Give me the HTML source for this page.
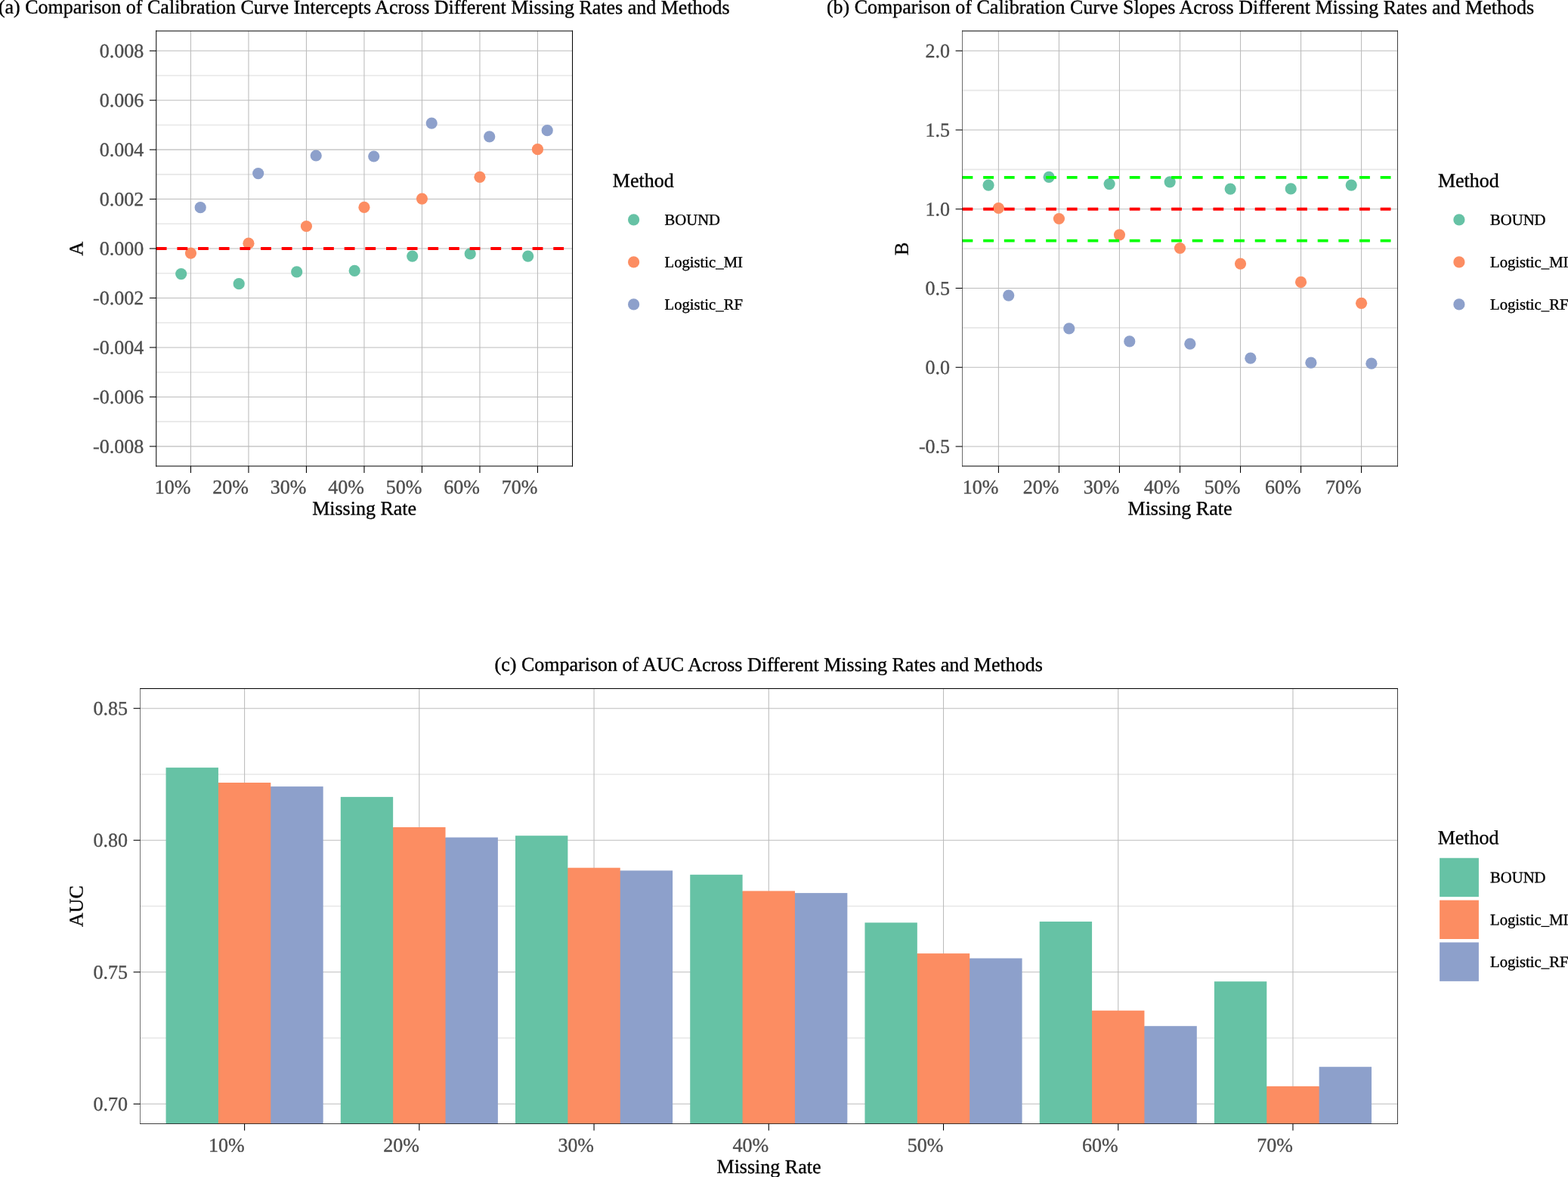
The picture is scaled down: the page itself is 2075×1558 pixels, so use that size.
<!DOCTYPE html>
<html lang="en">
<head>
<meta charset="utf-8">
<title>Comparison of Calibration Curves and AUC Across Missing Rates and Methods</title>
<style>
html, body { margin: 0; padding: 0; background: #fff; }
body { width: 2075px; height: 1558px; overflow: hidden; font-family: 'Liberation Serif', serif; }
svg { display: block; position: absolute; left: 0; top: 0; }
</style>
</head>
<body>
<svg width="2075" height="1558" viewBox="0 0 2075 1558" font-family="'Liberation Serif', serif" text-rendering="geometricPrecision" role="img" aria-label="Three-panel figure: calibration intercepts, calibration slopes and AUC by missing rate and method">
<rect width="2075" height="1558" fill="#fff"/>
<g id="panel-a">
<line x1="206.75" x2="757.5" y1="100.01" y2="100.01" stroke="#e7e7e7" stroke-width="1.6"/>
<line x1="206.75" x2="757.5" y1="165.44" y2="165.44" stroke="#e7e7e7" stroke-width="1.6"/>
<line x1="206.75" x2="757.5" y1="230.86" y2="230.86" stroke="#e7e7e7" stroke-width="1.6"/>
<line x1="206.75" x2="757.5" y1="296.29" y2="296.29" stroke="#e7e7e7" stroke-width="1.6"/>
<line x1="206.75" x2="757.5" y1="361.74" y2="361.74" stroke="#e7e7e7" stroke-width="1.6"/>
<line x1="206.75" x2="757.5" y1="427.2" y2="427.2" stroke="#e7e7e7" stroke-width="1.6"/>
<line x1="206.75" x2="757.5" y1="492.68" y2="492.68" stroke="#e7e7e7" stroke-width="1.6"/>
<line x1="206.75" x2="757.5" y1="558.14" y2="558.14" stroke="#e7e7e7" stroke-width="1.6"/>
<line x1="206.75" x2="757.5" y1="67.3" y2="67.3" stroke="#bcbcbc" stroke-width="1.07"/>
<line x1="206.75" x2="757.5" y1="132.73" y2="132.73" stroke="#bcbcbc" stroke-width="1.07"/>
<line x1="206.75" x2="757.5" y1="198.15" y2="198.15" stroke="#bcbcbc" stroke-width="1.07"/>
<line x1="206.75" x2="757.5" y1="263.57" y2="263.57" stroke="#bcbcbc" stroke-width="1.07"/>
<line x1="206.75" x2="757.5" y1="329" y2="329" stroke="#bcbcbc" stroke-width="1.07"/>
<line x1="206.75" x2="757.5" y1="394.47" y2="394.47" stroke="#bcbcbc" stroke-width="1.07"/>
<line x1="206.75" x2="757.5" y1="459.94" y2="459.94" stroke="#bcbcbc" stroke-width="1.07"/>
<line x1="206.75" x2="757.5" y1="525.41" y2="525.41" stroke="#bcbcbc" stroke-width="1.07"/>
<line x1="206.75" x2="757.5" y1="590.88" y2="590.88" stroke="#bcbcbc" stroke-width="1.07"/>
<line x1="252.45" x2="252.45" y1="41" y2="617" stroke="#bcbcbc" stroke-width="1.07"/>
<line x1="328.95" x2="328.95" y1="41" y2="617" stroke="#bcbcbc" stroke-width="1.07"/>
<line x1="405.45" x2="405.45" y1="41" y2="617" stroke="#bcbcbc" stroke-width="1.07"/>
<line x1="481.95" x2="481.95" y1="41" y2="617" stroke="#bcbcbc" stroke-width="1.07"/>
<line x1="558.45" x2="558.45" y1="41" y2="617" stroke="#bcbcbc" stroke-width="1.07"/>
<line x1="634.95" x2="634.95" y1="41" y2="617" stroke="#bcbcbc" stroke-width="1.07"/>
<line x1="711.45" x2="711.45" y1="41" y2="617" stroke="#bcbcbc" stroke-width="1.07"/>
<circle cx="239.7" cy="362.6" r="7.6" fill="#66C2A5"/>
<circle cx="252.45" cy="335.1" r="7.6" fill="#FC8D62"/>
<circle cx="265.2" cy="274.7" r="7.6" fill="#8DA0CB"/>
<circle cx="316.2" cy="375.7" r="7.6" fill="#66C2A5"/>
<circle cx="328.95" cy="322.2" r="7.6" fill="#FC8D62"/>
<circle cx="341.7" cy="229.6" r="7.6" fill="#8DA0CB"/>
<circle cx="392.7" cy="359.9" r="7.6" fill="#66C2A5"/>
<circle cx="405.45" cy="299.5" r="7.6" fill="#FC8D62"/>
<circle cx="418.2" cy="206" r="7.6" fill="#8DA0CB"/>
<circle cx="469.2" cy="358.4" r="7.6" fill="#66C2A5"/>
<circle cx="481.95" cy="274.4" r="7.6" fill="#FC8D62"/>
<circle cx="494.7" cy="207" r="7.6" fill="#8DA0CB"/>
<circle cx="545.7" cy="339.1" r="7.6" fill="#66C2A5"/>
<circle cx="558.45" cy="263.1" r="7.6" fill="#FC8D62"/>
<circle cx="571.2" cy="163.1" r="7.6" fill="#8DA0CB"/>
<circle cx="622.2" cy="335.9" r="7.6" fill="#66C2A5"/>
<circle cx="634.95" cy="234.3" r="7.6" fill="#FC8D62"/>
<circle cx="647.7" cy="180.9" r="7.6" fill="#8DA0CB"/>
<circle cx="698.7" cy="339.1" r="7.6" fill="#66C2A5"/>
<circle cx="711.45" cy="197.7" r="7.6" fill="#FC8D62"/>
<circle cx="724.2" cy="172.7" r="7.6" fill="#8DA0CB"/>
<line x1="206.75" x2="757.5" y1="329" y2="329" stroke="#FF0000" stroke-width="3.9" stroke-dasharray="13.83 13.83"/>
<line x1="206.75" x2="206.75" y1="40.4" y2="617.6" stroke="#000000" stroke-width="1.0"/>
<line x1="757.5" x2="757.5" y1="40.4" y2="617.6" stroke="#000000" stroke-width="1.0"/>
<line x1="206.25" x2="758" y1="41" y2="41" stroke="#000000" stroke-width="1.2"/>
<line x1="206.25" x2="758" y1="617" y2="617" stroke="#000000" stroke-width="1.2"/>
<line x1="197.85" x2="206.75" y1="67.3" y2="67.3" stroke="#000000" stroke-width="1.07"/>
<line x1="197.85" x2="206.75" y1="132.73" y2="132.73" stroke="#000000" stroke-width="1.07"/>
<line x1="197.85" x2="206.75" y1="198.15" y2="198.15" stroke="#000000" stroke-width="1.07"/>
<line x1="197.85" x2="206.75" y1="263.57" y2="263.57" stroke="#000000" stroke-width="1.07"/>
<line x1="197.85" x2="206.75" y1="329" y2="329" stroke="#000000" stroke-width="1.07"/>
<line x1="197.85" x2="206.75" y1="394.47" y2="394.47" stroke="#000000" stroke-width="1.07"/>
<line x1="197.85" x2="206.75" y1="459.94" y2="459.94" stroke="#000000" stroke-width="1.07"/>
<line x1="197.85" x2="206.75" y1="525.41" y2="525.41" stroke="#000000" stroke-width="1.07"/>
<line x1="197.85" x2="206.75" y1="590.88" y2="590.88" stroke="#000000" stroke-width="1.07"/>
<line x1="252.45" x2="252.45" y1="617" y2="625.9" stroke="#000000" stroke-width="1.07"/>
<line x1="328.95" x2="328.95" y1="617" y2="625.9" stroke="#000000" stroke-width="1.07"/>
<line x1="405.45" x2="405.45" y1="617" y2="625.9" stroke="#000000" stroke-width="1.07"/>
<line x1="481.95" x2="481.95" y1="617" y2="625.9" stroke="#000000" stroke-width="1.07"/>
<line x1="558.45" x2="558.45" y1="617" y2="625.9" stroke="#000000" stroke-width="1.07"/>
<line x1="634.95" x2="634.95" y1="617" y2="625.9" stroke="#000000" stroke-width="1.07"/>
<line x1="711.45" x2="711.45" y1="617" y2="625.9" stroke="#000000" stroke-width="1.07"/>
<text x="190.2" y="75.95" font-size="26" fill="#4D4D4D" stroke="#4D4D4D" stroke-width="0.35" text-anchor="end" transform="rotate(0.03 190.2 75.95)">0.008</text>
<text x="190.2" y="141.38" font-size="26" fill="#4D4D4D" stroke="#4D4D4D" stroke-width="0.35" text-anchor="end" transform="rotate(0.03 190.2 141.38)">0.006</text>
<text x="190.2" y="206.8" font-size="26" fill="#4D4D4D" stroke="#4D4D4D" stroke-width="0.35" text-anchor="end" transform="rotate(0.03 190.2 206.8)">0.004</text>
<text x="190.2" y="272.22" font-size="26" fill="#4D4D4D" stroke="#4D4D4D" stroke-width="0.35" text-anchor="end" transform="rotate(0.03 190.2 272.22)">0.002</text>
<text x="190.2" y="337.65" font-size="26" fill="#4D4D4D" stroke="#4D4D4D" stroke-width="0.35" text-anchor="end" transform="rotate(0.03 190.2 337.65)">0.000</text>
<text x="190.2" y="403.12" font-size="26" fill="#4D4D4D" stroke="#4D4D4D" stroke-width="0.35" text-anchor="end" transform="rotate(0.03 190.2 403.12)">-0.002</text>
<text x="190.2" y="468.59" font-size="26" fill="#4D4D4D" stroke="#4D4D4D" stroke-width="0.35" text-anchor="end" transform="rotate(0.03 190.2 468.59)">-0.004</text>
<text x="190.2" y="534.06" font-size="26" fill="#4D4D4D" stroke="#4D4D4D" stroke-width="0.35" text-anchor="end" transform="rotate(0.03 190.2 534.06)">-0.006</text>
<text x="190.2" y="599.53" font-size="26" fill="#4D4D4D" stroke="#4D4D4D" stroke-width="0.35" text-anchor="end" transform="rotate(0.03 190.2 599.53)">-0.008</text>
<text x="252.45" y="653.3" font-size="26" fill="#4D4D4D" stroke="#4D4D4D" stroke-width="0.35" text-anchor="end" transform="rotate(0.03 252.45 653.3)">10%</text>
<text x="328.95" y="653.3" font-size="26" fill="#4D4D4D" stroke="#4D4D4D" stroke-width="0.35" text-anchor="end" transform="rotate(0.03 328.95 653.3)">20%</text>
<text x="405.45" y="653.3" font-size="26" fill="#4D4D4D" stroke="#4D4D4D" stroke-width="0.35" text-anchor="end" transform="rotate(0.03 405.45 653.3)">30%</text>
<text x="481.95" y="653.3" font-size="26" fill="#4D4D4D" stroke="#4D4D4D" stroke-width="0.35" text-anchor="end" transform="rotate(0.03 481.95 653.3)">40%</text>
<text x="558.45" y="653.3" font-size="26" fill="#4D4D4D" stroke="#4D4D4D" stroke-width="0.35" text-anchor="end" transform="rotate(0.03 558.45 653.3)">50%</text>
<text x="634.95" y="653.3" font-size="26" fill="#4D4D4D" stroke="#4D4D4D" stroke-width="0.35" text-anchor="end" transform="rotate(0.03 634.95 653.3)">60%</text>
<text x="711.45" y="653.3" font-size="26" fill="#4D4D4D" stroke="#4D4D4D" stroke-width="0.35" text-anchor="end" transform="rotate(0.03 711.45 653.3)">70%</text>
<text x="481.82" y="18" font-size="26" fill="#000" stroke="#000" stroke-width="0.35" text-anchor="middle" transform="rotate(0.03 481.82 18)">(a) Comparison of Calibration Curve Intercepts Across Different Missing Rates and Methods</text>
<text x="482.12" y="681.5" font-size="26" fill="#000" stroke="#000" stroke-width="0.35" text-anchor="middle" transform="rotate(0.03 482.12 681.5)">Missing Rate</text>
<text transform="translate(109.4,329) rotate(-90.03)" font-size="26" fill="#000" stroke="#000" stroke-width="0.35" text-anchor="middle">A</text>
<text x="810.8" y="247.6" font-size="26" fill="#000" stroke="#000" stroke-width="0.35" text-anchor="start" transform="rotate(0.03 810.8 247.6)">Method</text>
<circle cx="838.6" cy="290.9" r="7.6" fill="#66C2A5"/>
<text x="879.5" y="297.75" font-size="20.7" fill="#000" stroke="#000" stroke-width="0.35" text-anchor="start" transform="rotate(0.03 879.5 297.75)">BOUND</text>
<circle cx="838.6" cy="346.9" r="7.6" fill="#FC8D62"/>
<text x="879.5" y="353.75" font-size="20.7" fill="#000" stroke="#000" stroke-width="0.35" text-anchor="start" transform="rotate(0.03 879.5 353.75)">Logistic_MI</text>
<circle cx="838.6" cy="402.9" r="7.6" fill="#8DA0CB"/>
<text x="879.5" y="409.75" font-size="20.7" fill="#000" stroke="#000" stroke-width="0.35" text-anchor="start" transform="rotate(0.03 879.5 409.75)">Logistic_RF</text>
</g>
<g id="panel-b">
<line x1="1273.5" x2="1849.5" y1="119.64" y2="119.64" stroke="#e7e7e7" stroke-width="1.6"/>
<line x1="1273.5" x2="1849.5" y1="224.39" y2="224.39" stroke="#e7e7e7" stroke-width="1.6"/>
<line x1="1273.5" x2="1849.5" y1="329.13" y2="329.13" stroke="#e7e7e7" stroke-width="1.6"/>
<line x1="1273.5" x2="1849.5" y1="433.88" y2="433.88" stroke="#e7e7e7" stroke-width="1.6"/>
<line x1="1273.5" x2="1849.5" y1="67.27" y2="67.27" stroke="#bcbcbc" stroke-width="1.07"/>
<line x1="1273.5" x2="1849.5" y1="172.01" y2="172.01" stroke="#bcbcbc" stroke-width="1.07"/>
<line x1="1273.5" x2="1849.5" y1="276.76" y2="276.76" stroke="#bcbcbc" stroke-width="1.07"/>
<line x1="1273.5" x2="1849.5" y1="381.5" y2="381.5" stroke="#bcbcbc" stroke-width="1.07"/>
<line x1="1273.5" x2="1849.5" y1="486.25" y2="486.25" stroke="#bcbcbc" stroke-width="1.07"/>
<line x1="1273.5" x2="1849.5" y1="591" y2="591" stroke="#bcbcbc" stroke-width="1.07"/>
<line x1="1321.4" x2="1321.4" y1="41" y2="617" stroke="#bcbcbc" stroke-width="1.07"/>
<line x1="1401.43" x2="1401.43" y1="41" y2="617" stroke="#bcbcbc" stroke-width="1.07"/>
<line x1="1481.46" x2="1481.46" y1="41" y2="617" stroke="#bcbcbc" stroke-width="1.07"/>
<line x1="1561.49" x2="1561.49" y1="41" y2="617" stroke="#bcbcbc" stroke-width="1.07"/>
<line x1="1641.52" x2="1641.52" y1="41" y2="617" stroke="#bcbcbc" stroke-width="1.07"/>
<line x1="1721.55" x2="1721.55" y1="41" y2="617" stroke="#bcbcbc" stroke-width="1.07"/>
<line x1="1801.58" x2="1801.58" y1="41" y2="617" stroke="#bcbcbc" stroke-width="1.07"/>
<circle cx="1308.06" cy="245.1" r="7.6" fill="#66C2A5"/>
<circle cx="1321.4" cy="275.5" r="7.6" fill="#FC8D62"/>
<circle cx="1334.74" cy="391.1" r="7.6" fill="#8DA0CB"/>
<circle cx="1388.09" cy="234.3" r="7.6" fill="#66C2A5"/>
<circle cx="1401.43" cy="289.5" r="7.6" fill="#FC8D62"/>
<circle cx="1414.77" cy="434.9" r="7.6" fill="#8DA0CB"/>
<circle cx="1468.12" cy="243.6" r="7.6" fill="#66C2A5"/>
<circle cx="1481.46" cy="310.8" r="7.6" fill="#FC8D62"/>
<circle cx="1494.8" cy="451.9" r="7.6" fill="#8DA0CB"/>
<circle cx="1548.15" cy="240.8" r="7.6" fill="#66C2A5"/>
<circle cx="1561.49" cy="328.5" r="7.6" fill="#FC8D62"/>
<circle cx="1574.83" cy="455.2" r="7.6" fill="#8DA0CB"/>
<circle cx="1628.18" cy="250.1" r="7.6" fill="#66C2A5"/>
<circle cx="1641.52" cy="349.1" r="7.6" fill="#FC8D62"/>
<circle cx="1654.86" cy="474.2" r="7.6" fill="#8DA0CB"/>
<circle cx="1708.21" cy="249.9" r="7.6" fill="#66C2A5"/>
<circle cx="1721.55" cy="373.4" r="7.6" fill="#FC8D62"/>
<circle cx="1734.89" cy="480.2" r="7.6" fill="#8DA0CB"/>
<circle cx="1788.24" cy="245.1" r="7.6" fill="#66C2A5"/>
<circle cx="1801.58" cy="401.3" r="7.6" fill="#FC8D62"/>
<circle cx="1814.92" cy="481.2" r="7.6" fill="#8DA0CB"/>
<line x1="1273.5" x2="1849.5" y1="276.76" y2="276.76" stroke="#FF0000" stroke-width="3.9" stroke-dasharray="13.83 13.83"/>
<line x1="1273.5" x2="1849.5" y1="234.86" y2="234.86" stroke="#00FF00" stroke-width="3.9" stroke-dasharray="13.83 13.83"/>
<line x1="1273.5" x2="1849.5" y1="318.66" y2="318.66" stroke="#00FF00" stroke-width="3.9" stroke-dasharray="13.83 13.83"/>
<line x1="1273.5" x2="1273.5" y1="40.4" y2="617.6" stroke="#000000" stroke-width="0.58"/>
<line x1="1849.5" x2="1849.5" y1="40.4" y2="617.6" stroke="#000000" stroke-width="0.75"/>
<line x1="1273.21" x2="1849.88" y1="41" y2="41" stroke="#000000" stroke-width="1.2"/>
<line x1="1273.21" x2="1849.88" y1="617" y2="617" stroke="#000000" stroke-width="1.2"/>
<line x1="1264.6" x2="1273.5" y1="67.27" y2="67.27" stroke="#000000" stroke-width="1.07"/>
<line x1="1264.6" x2="1273.5" y1="172.01" y2="172.01" stroke="#000000" stroke-width="1.07"/>
<line x1="1264.6" x2="1273.5" y1="276.76" y2="276.76" stroke="#000000" stroke-width="1.07"/>
<line x1="1264.6" x2="1273.5" y1="381.5" y2="381.5" stroke="#000000" stroke-width="1.07"/>
<line x1="1264.6" x2="1273.5" y1="486.25" y2="486.25" stroke="#000000" stroke-width="1.07"/>
<line x1="1264.6" x2="1273.5" y1="591" y2="591" stroke="#000000" stroke-width="1.07"/>
<line x1="1321.4" x2="1321.4" y1="617" y2="625.9" stroke="#000000" stroke-width="1.07"/>
<line x1="1401.43" x2="1401.43" y1="617" y2="625.9" stroke="#000000" stroke-width="1.07"/>
<line x1="1481.46" x2="1481.46" y1="617" y2="625.9" stroke="#000000" stroke-width="1.07"/>
<line x1="1561.49" x2="1561.49" y1="617" y2="625.9" stroke="#000000" stroke-width="1.07"/>
<line x1="1641.52" x2="1641.52" y1="617" y2="625.9" stroke="#000000" stroke-width="1.07"/>
<line x1="1721.55" x2="1721.55" y1="617" y2="625.9" stroke="#000000" stroke-width="1.07"/>
<line x1="1801.58" x2="1801.58" y1="617" y2="625.9" stroke="#000000" stroke-width="1.07"/>
<text x="1257.1" y="75.92" font-size="26" fill="#4D4D4D" stroke="#4D4D4D" stroke-width="0.35" text-anchor="end" transform="rotate(0.03 1257.1 75.92)">2.0</text>
<text x="1257.1" y="180.66" font-size="26" fill="#4D4D4D" stroke="#4D4D4D" stroke-width="0.35" text-anchor="end" transform="rotate(0.03 1257.1 180.66)">1.5</text>
<text x="1257.1" y="285.41" font-size="26" fill="#4D4D4D" stroke="#4D4D4D" stroke-width="0.35" text-anchor="end" transform="rotate(0.03 1257.1 285.41)">1.0</text>
<text x="1257.1" y="390.15" font-size="26" fill="#4D4D4D" stroke="#4D4D4D" stroke-width="0.35" text-anchor="end" transform="rotate(0.03 1257.1 390.15)">0.5</text>
<text x="1257.1" y="494.9" font-size="26" fill="#4D4D4D" stroke="#4D4D4D" stroke-width="0.35" text-anchor="end" transform="rotate(0.03 1257.1 494.9)">0.0</text>
<text x="1257.1" y="599.64" font-size="26" fill="#4D4D4D" stroke="#4D4D4D" stroke-width="0.35" text-anchor="end" transform="rotate(0.03 1257.1 599.64)">-0.5</text>
<text x="1321.4" y="653.3" font-size="26" fill="#4D4D4D" stroke="#4D4D4D" stroke-width="0.35" text-anchor="end" transform="rotate(0.03 1321.4 653.3)">10%</text>
<text x="1401.43" y="653.3" font-size="26" fill="#4D4D4D" stroke="#4D4D4D" stroke-width="0.35" text-anchor="end" transform="rotate(0.03 1401.43 653.3)">20%</text>
<text x="1481.46" y="653.3" font-size="26" fill="#4D4D4D" stroke="#4D4D4D" stroke-width="0.35" text-anchor="end" transform="rotate(0.03 1481.46 653.3)">30%</text>
<text x="1561.49" y="653.3" font-size="26" fill="#4D4D4D" stroke="#4D4D4D" stroke-width="0.35" text-anchor="end" transform="rotate(0.03 1561.49 653.3)">40%</text>
<text x="1641.52" y="653.3" font-size="26" fill="#4D4D4D" stroke="#4D4D4D" stroke-width="0.35" text-anchor="end" transform="rotate(0.03 1641.52 653.3)">50%</text>
<text x="1721.55" y="653.3" font-size="26" fill="#4D4D4D" stroke="#4D4D4D" stroke-width="0.35" text-anchor="end" transform="rotate(0.03 1721.55 653.3)">60%</text>
<text x="1801.58" y="653.3" font-size="26" fill="#4D4D4D" stroke="#4D4D4D" stroke-width="0.35" text-anchor="end" transform="rotate(0.03 1801.58 653.3)">70%</text>
<text x="1562" y="18" font-size="26" fill="#000" stroke="#000" stroke-width="0.35" text-anchor="middle" transform="rotate(0.03 1562 18)">(b) Comparison of Calibration Curve Slopes Across Different Missing Rates and Methods</text>
<text x="1561.5" y="681.5" font-size="26" fill="#000" stroke="#000" stroke-width="0.35" text-anchor="middle" transform="rotate(0.03 1561.5 681.5)">Missing Rate</text>
<text transform="translate(1201.8,329.3) rotate(-90.03)" font-size="26" fill="#000" stroke="#000" stroke-width="0.35" text-anchor="middle">B</text>
<text x="1902.9" y="247.6" font-size="26" fill="#000" stroke="#000" stroke-width="0.35" text-anchor="start" transform="rotate(0.03 1902.9 247.6)">Method</text>
<circle cx="1930.9" cy="290.9" r="7.6" fill="#66C2A5"/>
<text x="1972" y="297.75" font-size="20.7" fill="#000" stroke="#000" stroke-width="0.35" text-anchor="start" transform="rotate(0.03 1972 297.75)">BOUND</text>
<circle cx="1930.9" cy="346.9" r="7.6" fill="#FC8D62"/>
<text x="1972" y="353.75" font-size="20.7" fill="#000" stroke="#000" stroke-width="0.35" text-anchor="start" transform="rotate(0.03 1972 353.75)">Logistic_MI</text>
<circle cx="1930.9" cy="402.9" r="7.6" fill="#8DA0CB"/>
<text x="1972" y="409.75" font-size="20.7" fill="#000" stroke="#000" stroke-width="0.35" text-anchor="start" transform="rotate(0.03 1972 409.75)">Logistic_RF</text>
</g>
<g id="panel-c">
<line x1="185.5" x2="1849.5" y1="1024.95" y2="1024.95" stroke="#e7e7e7" stroke-width="1.6"/>
<line x1="185.5" x2="1849.5" y1="1199.5" y2="1199.5" stroke="#e7e7e7" stroke-width="1.6"/>
<line x1="185.5" x2="1849.5" y1="1374.05" y2="1374.05" stroke="#e7e7e7" stroke-width="1.6"/>
<line x1="185.5" x2="1849.5" y1="937.68" y2="937.68" stroke="#bcbcbc" stroke-width="1.07"/>
<line x1="185.5" x2="1849.5" y1="1112.23" y2="1112.23" stroke="#bcbcbc" stroke-width="1.07"/>
<line x1="185.5" x2="1849.5" y1="1286.77" y2="1286.77" stroke="#bcbcbc" stroke-width="1.07"/>
<line x1="185.5" x2="1849.5" y1="1461.32" y2="1461.32" stroke="#bcbcbc" stroke-width="1.07"/>
<line x1="323.6" x2="323.6" y1="911.5" y2="1487.5" stroke="#bcbcbc" stroke-width="1.07"/>
<line x1="554.83" x2="554.83" y1="911.5" y2="1487.5" stroke="#bcbcbc" stroke-width="1.07"/>
<line x1="786.06" x2="786.06" y1="911.5" y2="1487.5" stroke="#bcbcbc" stroke-width="1.07"/>
<line x1="1017.29" x2="1017.29" y1="911.5" y2="1487.5" stroke="#bcbcbc" stroke-width="1.07"/>
<line x1="1248.52" x2="1248.52" y1="911.5" y2="1487.5" stroke="#bcbcbc" stroke-width="1.07"/>
<line x1="1479.75" x2="1479.75" y1="911.5" y2="1487.5" stroke="#bcbcbc" stroke-width="1.07"/>
<line x1="1710.98" x2="1710.98" y1="911.5" y2="1487.5" stroke="#bcbcbc" stroke-width="1.07"/>
<rect x="287.92" y="1036.5" width="2" height="451" fill="#66C2A5"/>
<rect x="357.28" y="1041.6" width="2" height="445.9" fill="#FC8D62"/>
<rect x="219.55" y="1016.1" width="69.37" height="471.4" fill="#66C2A5"/>
<rect x="288.92" y="1036" width="69.37" height="451.5" fill="#FC8D62"/>
<rect x="358.28" y="1041.1" width="69.37" height="446.4" fill="#8DA0CB"/>
<rect x="519.15" y="1095.5" width="2" height="392" fill="#66C2A5"/>
<rect x="588.51" y="1109" width="2" height="378.5" fill="#FC8D62"/>
<rect x="450.78" y="1054.9" width="69.37" height="432.6" fill="#66C2A5"/>
<rect x="520.15" y="1095" width="69.37" height="392.5" fill="#FC8D62"/>
<rect x="589.51" y="1108.5" width="69.37" height="379" fill="#8DA0CB"/>
<rect x="750.38" y="1149.2" width="2" height="338.3" fill="#66C2A5"/>
<rect x="819.74" y="1152.9" width="2" height="334.6" fill="#FC8D62"/>
<rect x="682.01" y="1106.2" width="69.37" height="381.3" fill="#66C2A5"/>
<rect x="751.38" y="1148.7" width="69.37" height="338.8" fill="#FC8D62"/>
<rect x="820.74" y="1152.4" width="69.37" height="335.1" fill="#8DA0CB"/>
<rect x="981.61" y="1179.9" width="2" height="307.6" fill="#66C2A5"/>
<rect x="1050.97" y="1182.6" width="2" height="304.9" fill="#FC8D62"/>
<rect x="913.24" y="1157.8" width="69.37" height="329.7" fill="#66C2A5"/>
<rect x="982.61" y="1179.4" width="69.37" height="308.1" fill="#FC8D62"/>
<rect x="1051.97" y="1182.1" width="69.37" height="305.4" fill="#8DA0CB"/>
<rect x="1212.84" y="1262.6" width="2" height="224.9" fill="#66C2A5"/>
<rect x="1282.2" y="1269" width="2" height="218.5" fill="#FC8D62"/>
<rect x="1144.47" y="1221.3" width="69.37" height="266.2" fill="#66C2A5"/>
<rect x="1213.84" y="1262.1" width="69.37" height="225.4" fill="#FC8D62"/>
<rect x="1283.2" y="1268.5" width="69.37" height="219" fill="#8DA0CB"/>
<rect x="1444.07" y="1338.2" width="2" height="149.3" fill="#66C2A5"/>
<rect x="1513.43" y="1358.7" width="2" height="128.8" fill="#FC8D62"/>
<rect x="1375.7" y="1219.9" width="69.37" height="267.6" fill="#66C2A5"/>
<rect x="1445.07" y="1337.7" width="69.37" height="149.8" fill="#FC8D62"/>
<rect x="1514.43" y="1358.2" width="69.37" height="129.3" fill="#8DA0CB"/>
<rect x="1675.3" y="1438.4" width="2" height="49.1" fill="#66C2A5"/>
<rect x="1744.66" y="1438.4" width="2" height="49.1" fill="#FC8D62"/>
<rect x="1606.93" y="1299.2" width="69.37" height="188.3" fill="#66C2A5"/>
<rect x="1676.3" y="1437.9" width="69.37" height="49.6" fill="#FC8D62"/>
<rect x="1745.66" y="1412.2" width="69.37" height="75.3" fill="#8DA0CB"/>
<line x1="185.5" x2="185.5" y1="911" y2="1487.88" stroke="#000000" stroke-width="0.55"/>
<line x1="1849.5" x2="1849.5" y1="911" y2="1487.88" stroke="#000000" stroke-width="0.75"/>
<line x1="185.22" x2="1849.88" y1="911.5" y2="911.5" stroke="#000000" stroke-width="1.0"/>
<line x1="185.22" x2="1849.88" y1="1487.5" y2="1487.5" stroke="#000000" stroke-width="0.75"/>
<line x1="176.6" x2="185.5" y1="937.68" y2="937.68" stroke="#000000" stroke-width="1.07"/>
<line x1="176.6" x2="185.5" y1="1112.23" y2="1112.23" stroke="#000000" stroke-width="1.07"/>
<line x1="176.6" x2="185.5" y1="1286.77" y2="1286.77" stroke="#000000" stroke-width="1.07"/>
<line x1="176.6" x2="185.5" y1="1461.32" y2="1461.32" stroke="#000000" stroke-width="1.07"/>
<line x1="323.6" x2="323.6" y1="1487.5" y2="1496.4" stroke="#000000" stroke-width="1.07"/>
<line x1="554.83" x2="554.83" y1="1487.5" y2="1496.4" stroke="#000000" stroke-width="1.07"/>
<line x1="786.06" x2="786.06" y1="1487.5" y2="1496.4" stroke="#000000" stroke-width="1.07"/>
<line x1="1017.29" x2="1017.29" y1="1487.5" y2="1496.4" stroke="#000000" stroke-width="1.07"/>
<line x1="1248.52" x2="1248.52" y1="1487.5" y2="1496.4" stroke="#000000" stroke-width="1.07"/>
<line x1="1479.75" x2="1479.75" y1="1487.5" y2="1496.4" stroke="#000000" stroke-width="1.07"/>
<line x1="1710.98" x2="1710.98" y1="1487.5" y2="1496.4" stroke="#000000" stroke-width="1.07"/>
<text x="168.9" y="946.33" font-size="26" fill="#4D4D4D" stroke="#4D4D4D" stroke-width="0.35" text-anchor="end" transform="rotate(0.03 168.9 946.33)">0.85</text>
<text x="168.9" y="1120.88" font-size="26" fill="#4D4D4D" stroke="#4D4D4D" stroke-width="0.35" text-anchor="end" transform="rotate(0.03 168.9 1120.88)">0.80</text>
<text x="168.9" y="1295.42" font-size="26" fill="#4D4D4D" stroke="#4D4D4D" stroke-width="0.35" text-anchor="end" transform="rotate(0.03 168.9 1295.42)">0.75</text>
<text x="168.9" y="1469.97" font-size="26" fill="#4D4D4D" stroke="#4D4D4D" stroke-width="0.35" text-anchor="end" transform="rotate(0.03 168.9 1469.97)">0.70</text>
<text x="323.6" y="1524.45" font-size="26" fill="#4D4D4D" stroke="#4D4D4D" stroke-width="0.35" text-anchor="end" transform="rotate(0.03 323.6 1524.45)">10%</text>
<text x="554.83" y="1524.45" font-size="26" fill="#4D4D4D" stroke="#4D4D4D" stroke-width="0.35" text-anchor="end" transform="rotate(0.03 554.83 1524.45)">20%</text>
<text x="786.06" y="1524.45" font-size="26" fill="#4D4D4D" stroke="#4D4D4D" stroke-width="0.35" text-anchor="end" transform="rotate(0.03 786.06 1524.45)">30%</text>
<text x="1017.29" y="1524.45" font-size="26" fill="#4D4D4D" stroke="#4D4D4D" stroke-width="0.35" text-anchor="end" transform="rotate(0.03 1017.29 1524.45)">40%</text>
<text x="1248.52" y="1524.45" font-size="26" fill="#4D4D4D" stroke="#4D4D4D" stroke-width="0.35" text-anchor="end" transform="rotate(0.03 1248.52 1524.45)">50%</text>
<text x="1479.75" y="1524.45" font-size="26" fill="#4D4D4D" stroke="#4D4D4D" stroke-width="0.35" text-anchor="end" transform="rotate(0.03 1479.75 1524.45)">60%</text>
<text x="1710.98" y="1524.45" font-size="26" fill="#4D4D4D" stroke="#4D4D4D" stroke-width="0.35" text-anchor="end" transform="rotate(0.03 1710.98 1524.45)">70%</text>
<text x="1017.2" y="888.2" font-size="26" fill="#000" stroke="#000" stroke-width="0.35" text-anchor="middle" transform="rotate(0.03 1017.2 888.2)">(c) Comparison of AUC Across Different Missing Rates and Methods</text>
<text x="1017.5" y="1552.9" font-size="26" fill="#000" stroke="#000" stroke-width="0.35" text-anchor="middle" transform="rotate(0.03 1017.5 1552.9)">Missing Rate</text>
<text transform="translate(109.4,1199.5) rotate(-90.03)" font-size="26" fill="#000" stroke="#000" stroke-width="0.35" text-anchor="middle">AUC</text>
<text x="1902.7" y="1117.3" font-size="26" fill="#000" stroke="#000" stroke-width="0.35" text-anchor="start" transform="rotate(0.03 1902.7 1117.3)">Method</text>
<rect x="1905.1" y="1135.75" width="51.8" height="51.4" fill="#66C2A5"/>
<text x="1972" y="1168.3" font-size="20.7" fill="#000" stroke="#000" stroke-width="0.35" text-anchor="start" transform="rotate(0.03 1972 1168.3)">BOUND</text>
<rect x="1905.1" y="1191.6" width="51.8" height="51.4" fill="#FC8D62"/>
<text x="1972" y="1224.15" font-size="20.7" fill="#000" stroke="#000" stroke-width="0.35" text-anchor="start" transform="rotate(0.03 1972 1224.15)">Logistic_MI</text>
<rect x="1905.1" y="1247.45" width="51.8" height="51.4" fill="#8DA0CB"/>
<text x="1972" y="1280" font-size="20.7" fill="#000" stroke="#000" stroke-width="0.35" text-anchor="start" transform="rotate(0.03 1972 1280)">Logistic_RF</text>
</g>
</svg>
</body>
</html>
